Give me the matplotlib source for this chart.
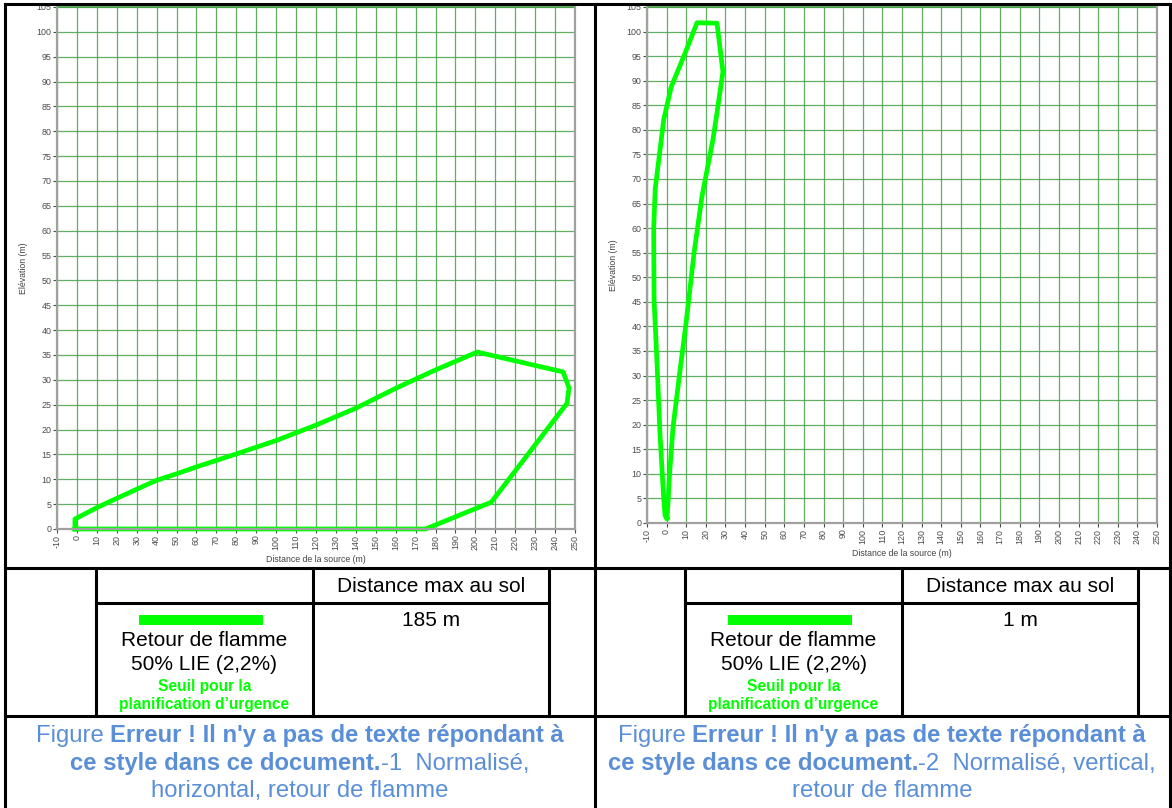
import numpy as np
import matplotlib
matplotlib.use("Agg")
import matplotlib.pyplot as plt
from matplotlib.lines import Line2D
from matplotlib.patches import Rectangle

plt.rcParams['font.family'] = ['Liberation Sans', 'DejaVu Sans']
plt.rcParams['axes.unicode_minus'] = False

W, H = 1172, 808

# Contour horizontal (x = distance, y = elevation)
horiz_x = [-1, -1, 10, 18, 30, 40, 50, 60, 80, 100, 120, 140, 160, 180, 201, 203,
           244, 247, 246, 208, 175, -1]
horiz_y = [0, 2, 4.3, 5.8, 8.0, 9.8, 11.1, 12.5, 15.1, 17.8, 20.9, 24.3, 28.3, 32.0, 35.6, 35.4,
           31.6, 28.4, 25.3, 5.4, 0, 0]

# Contour vertical
vert_x = [0.2, 0.8, 1.5, 3.3, 6.5, 10, 14, 18, 23.6, 25.5, 28.7, 25.7, 15.5, 9.4, 2.3,
          -1.5, -3.8, -5.8, -6.6, -6.4, -4.8, -3.4, -2.5, -1.5, -0.8, 0.2]
vert_y = [1, 4.7, 10, 19.6, 30, 41, 55, 66.4, 78, 83, 91.8, 101.7, 101.8, 95.6, 88.7,
          82, 74.5, 68, 60, 45.4, 31.8, 18.3, 12, 5, 1.5, 1]

x_ticks = list(range(-10, 251, 10))
y_ticks = list(range(0, 106, 5))
dist_max = ["185 m", "1 m"]
fig_num = ["1", "2"]

GREEN = '#00ff00'
BLUE = '#5a8fd8'

fig = plt.figure(figsize=(W / 100, H / 100), dpi=100)


def fx(x):
    return x / W


def fy(y):
    return 1 - y / H


def hline(x0, x1, y, lw=2.2):
    fig.add_artist(Line2D([fx(x0), fx(x1)], [fy(y), fy(y)], color='black', lw=lw,
                          transform=fig.transFigure, solid_capstyle='projecting'))


def vline(x, y0, y1, lw=2.2):
    fig.add_artist(Line2D([fx(x), fx(x)], [fy(y0), fy(y1)], color='black', lw=lw,
                          transform=fig.transFigure, solid_capstyle='projecting'))


def make_axes(left, right, top, bottom, xs, ys):
    ax = fig.add_axes([fx(left), fy(bottom), (right - left) / W, (bottom - top) / H])
    ax.set_xlim(-10, 250)
    ax.set_ylim(0, 105)
    ax.set_xticks(x_ticks)
    ax.set_yticks(y_ticks)
    ax.tick_params(axis='x', labelrotation=90, labelsize=6.4, colors='#4a4a4a',
                   length=3, width=0.8, pad=1)
    ax.tick_params(axis='y', labelsize=6.4, colors='#4a4a4a', length=3, width=0.8, pad=1)
    ax.grid(True, color='#46a046', lw=0.9, alpha=0.85)
    ax.set_axisbelow(True)
    for s in ['left', 'bottom', 'right']:
        ax.spines[s].set_color('#a0a0a0')
        ax.spines[s].set_linewidth(1.6)
    ax.spines['top'].set_visible(False)
    ax.axhline(105, color='#46a046', lw=1.2, clip_on=False)
    ax.plot(xs, ys, color=GREEN, lw=3.4, solid_joinstyle='round', clip_on=False)
    ax.set_xlabel('Distance de la source (m)', fontsize=6.3, color='#444444', labelpad=4)
    ax.set_ylabel('Elévation (m)', fontsize=6.3, color='#444444', labelpad=6)
    return ax


make_axes(57, 575, 7, 529, horiz_x, horiz_y)
make_axes(647, 1157, 7, 523, vert_x, vert_y)

# Frame
hline(5, 1170, 4)
vline(5, 4, 808)
vline(1170, 4, 808)
vline(595, 4, 808)
hline(5, 1170, 568)
hline(5, 1170, 716)

# Inner tables
for (l, m, r) in [(96, 313, 549), (685, 902, 1138)]:
    vline(l, 568, 716)
    vline(m, 568, 716)
    vline(r, 568, 716)
    hline(l, r, 603)


def ftext(x, y, s, **kw):
    return fig.text(fx(x), fy(y), s, ha='center', va='center', **kw)


for i, (l, m, r) in enumerate([(96, 313, 549), (685, 902, 1138)]):
    c1 = (l + m) / 2
    c2 = (m + r) / 2
    ftext(c2, 586, 'Distance max au sol', fontsize=15, color='black')
    ftext(c2, 621, dist_max[i], fontsize=15, color='black')
    bw = 124
    fig.add_artist(Rectangle((fx(c1 - 4 - bw / 2), fy(625)), bw / W, 10 / H,
                             transform=fig.transFigure, color=GREEN, lw=0))
    ftext(c1, 641, 'Retour de flamme', fontsize=15, color='black')
    ftext(c1, 665, '50% LIE (2,2%)', fontsize=15, color='black')
    ftext(c1, 687, 'Seuil pour la', fontsize=11.2, color=GREEN, fontweight='bold')
    ftext(c1, 705, 'planification d\u2019urgence', fontsize=11.2, color=GREEN,
          fontweight='bold')

# Captions with mixed bold / regular parts
fig.canvas.draw()
renderer = fig.canvas.get_renderer()


def rich_line(cx, y, parts):
    arts = []
    for s, bold in parts:
        t = fig.text(0, fy(y), s, ha='left', va='baseline', fontsize=17.2, color=BLUE,
                     fontweight='bold' if bold else 'normal')
        arts.append(t)
    widths = [a.get_window_extent(renderer).width for a in arts]
    x = cx - sum(widths) / 2
    for a, w in zip(arts, widths):
        a.set_x(fx(x))
        x += w


caption3 = ['horizontal, retour de flamme', 'retour de flamme']
caption2 = ['  Normalisé,', '  Normalisé, vertical,']
for i, cx in enumerate([300, 882]):
    rich_line(cx, 742, [('Figure ', False),
                        ("Erreur ! Il n'y a pas de texte répondant à", True)])
    rich_line(cx, 770, [('ce style dans ce document.', True),
                        ('-' + fig_num[i] + caption2[i], False)])
    rich_line(cx, 797, [(caption3[i], False)])

fig.savefig('out.png', dpi=100)
